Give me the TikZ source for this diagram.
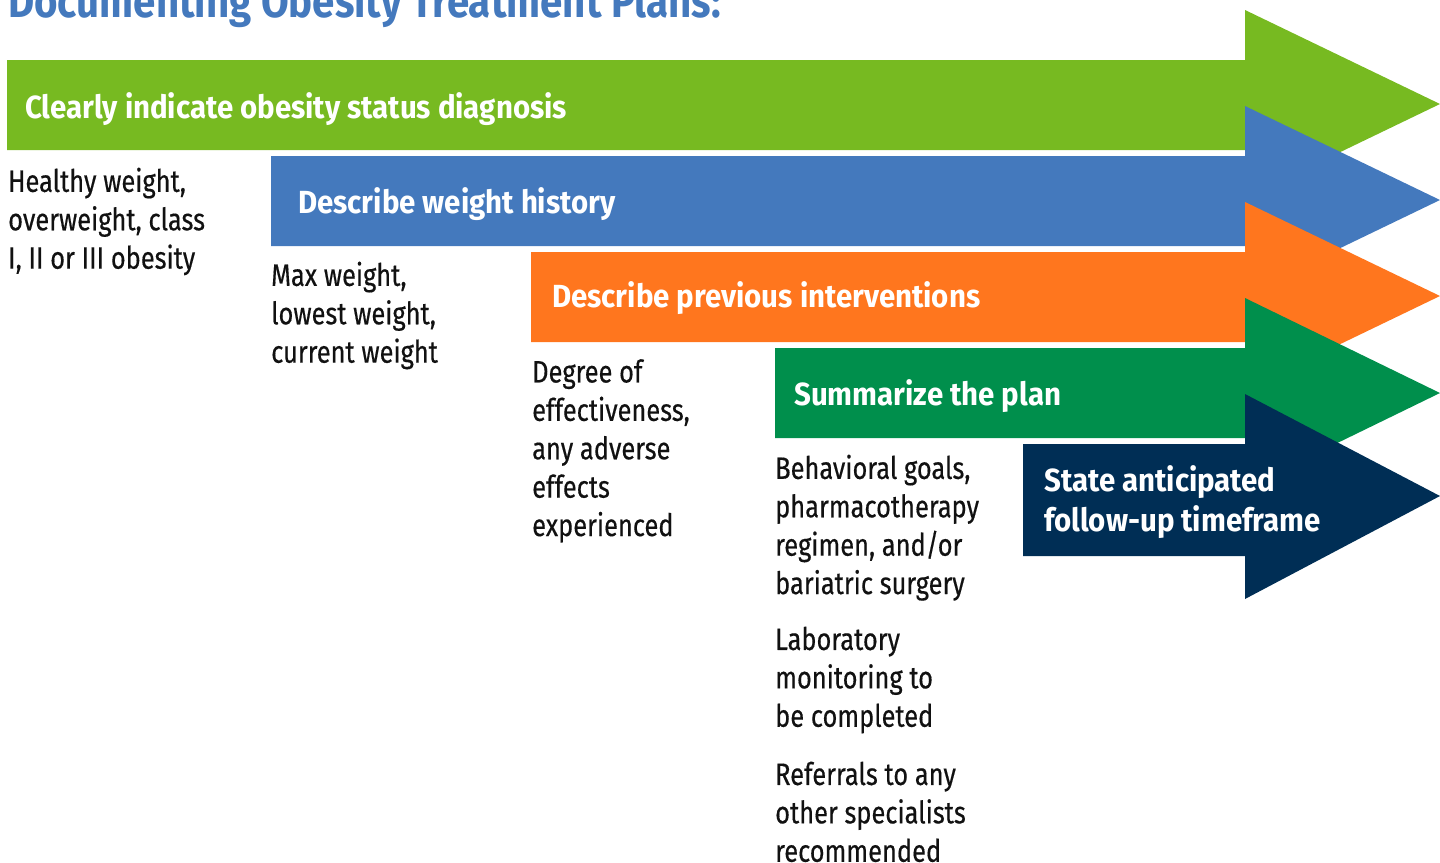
\documentclass[tikz,border=0pt]{standalone}
\usepackage{fontspec}
\setmainfont[FakeStretch=0.82, FakeBold=0.4]{Fira Sans}
\newfontfamily\barfont[FakeStretch=0.92]{Fira Sans}
\newfontfamily\titlefont[FakeStretch=0.875]{Fira Sans}
\definecolor{obGreen}{HTML}{77BA21}
\definecolor{obBlue}{HTML}{4479BD}
\definecolor{obOrange}{HTML}{FF761E}
\definecolor{obTeal}{HTML}{008F4C}
\definecolor{obNavy}{HTML}{002E55}
\definecolor{obText}{HTML}{111111}

\tikzset{
  barlabel/.style={anchor=base west, inner sep=0pt, text=white, font=\fontsize{32}{40.7}\selectfont\barfont\bfseries},
  notetext/.style={anchor=north west, inner sep=0pt, align=left, text=obText, font=\fontsize{31}{38.4}\selectfont},
}

\begin{document}
\begin{tikzpicture}[x=1pt,y=-1pt]
  \useasboundingbox (0,0) rectangle (1440,862);
  \clip (0,0) rectangle (1440,862);
  \node[anchor=base west, inner sep=0pt, text=obBlue, font=\fontsize{46}{52}\selectfont\titlefont\bfseries] (title) at (8,17) {Documenting Obesity Treatment Plans:};

  % arrows, back to front
  \fill[obGreen] (7,60) -| (1245,10) -- (1440,104) -- (1245,198) |- (7,150) -- cycle;
  \fill[obBlue] (271,156) -| (1245,106) -- (1440,200) -- (1245,294) |- (271,246) -- cycle;
  \fill[obOrange] (531,252) -| (1245,202) -- (1440,296) -- (1245,390) |- (531,342) -- cycle;
  \fill[obTeal] (775,348) -| (1245,298) -- (1440,393) -- (1245,488) |- (775,438) -- cycle;
  \fill[obNavy] (1023,444) -| (1245,394) -- (1440,496) -- (1245,599) |- (1023,556) -- cycle;

  \node[barlabel] (diagnosis) at (25,118) {Clearly indicate obesity status diagnosis};
  \node[barlabel] (history) at (298,213) {Describe weight history};
  \node[barlabel] (previous) at (552,307) {Describe previous interventions};
  \node[barlabel] (plan) at (794,405) {Summarize the plan};
  \node[barlabel, anchor=north west, align=left] (followup) at (1044,465) {State anticipated\\follow-up timeframe};

  \node[notetext] (status) at (8,167.5) {Healthy weight,\\overweight, class\\I, II or III obesity};
  \node[notetext] (weights) at (271,261.5) {Max weight,\\lowest weight,\\current weight};
  \node[notetext] (effects) at (532,359) {Degree of\\effectiveness,\\any adverse\\effects\\experienced};
  \node[notetext] (goals) at (775,454.5) {Behavioral goals,\\pharmacotherapy\\regimen, and/or\\bariatric surgery};
  \node[notetext] (labs) at (775,626.5) {Laboratory\\monitoring to\\be completed};
  \node[notetext] (referrals) at (775,761.5) {Referrals to any\\other specialists\\recommended};
\end{tikzpicture}
\end{document}
